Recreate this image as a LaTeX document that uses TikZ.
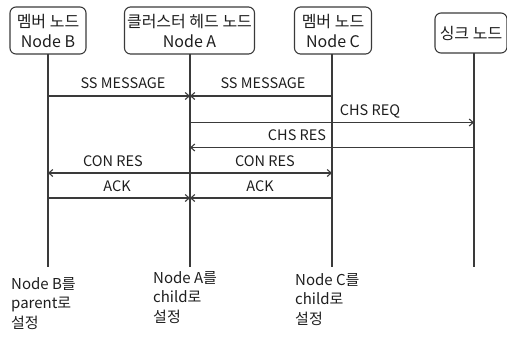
\documentclass[tikz,border=0pt]{standalone}
\usepackage{fontspec}
\setmainfont{Noto Sans CJK KR}
\usetikzlibrary{arrows.meta}
\definecolor{ln}{HTML}{3A3A3A}
\definecolor{tx}{HTML}{1E1E1E}
\begin{document}
\begin{tikzpicture}[x=1pt,y=-1pt,
  font=\fontsize{14.5}{20}\selectfont, text=tx,
  actor/.style={draw=ln, line width=1.1pt, rounded corners=6pt, minimum height=47pt, inner sep=1pt, align=center, font=\fontsize{16}{20}\selectfont},
  life/.style={draw=ln, line width=1.1pt},
  msg/.style={draw=ln, line width=1.1pt, -{Straight Barb[length=4pt,width=7pt,line width=1.1pt]}},
  lbl/.style={inner sep=0pt, anchor=base},
  note/.style={inner sep=0pt, anchor=north west, align=left, font=\fontsize{15}{19.5}\selectfont}]
\useasboundingbox (0,0) rectangle (507,338);
% actors
\node[actor, minimum width=76pt] (B) at (48,30.5) {멤버 노드\\Node B};
\node[actor, minimum width=130pt] (A) at (189.5,30.5) {클러스터 헤드 노드\\Node A};
\node[actor, minimum width=77pt] (C) at (333,30.5) {멤버 노드\\Node C};
\node[actor, minimum width=72pt, minimum height=40pt] (S) at (471,33) {싱크 노드};
% lifeline ends
\coordinate (Bt) at (48,54); \coordinate (Bb) at (48,267);
\coordinate (At) at (190,54); \coordinate (Ab) at (190,267);
\coordinate (Ct) at (332,54); \coordinate (Cb) at (332,267);
\coordinate (St) at (474,53); \coordinate (Sb) at (474,267);
\draw[life] (Bt) -- (Bb);
\draw[life] (At) -- (Ab);
\draw[life] (Ct) -- (Cb);
\draw[life] (St) -- (Sb);
% message levels
\coordinate (y1) at (0,96);
\coordinate (y2) at (0,122.5);
\coordinate (y3) at (0,147.5);
\coordinate (y4) at (0,173);
\coordinate (y5) at (0,198);
% SS MESSAGE
\draw[msg] (Bt |- y1) -- (At |- y1);
\draw[msg] (Ct |- y1) -- (At |- y1);
\node[lbl] (l1) at (123,88.5) {SS MESSAGE};
\node[lbl] (l2) at (263,88.5) {SS MESSAGE};
% CHS REQ
\draw[msg] (At |- y2) -- (St |- y2);
\node[lbl] (l3) at (370,115) {CHS REQ};
% CHS RES
\draw[msg] (St |- y3) -- (At |- y3);
\node[lbl] (l4) at (297,140.5) {CHS RES};
% CON RES
\draw[msg] (At |- y4) -- (Bt |- y4);
\draw[msg] (At |- y4) -- (Ct |- y4);
\node[lbl] (l5) at (113,166.5) {CON RES};
\node[lbl] (l6) at (265,166.5) {CON RES};
% ACK
\draw[msg] (Bt |- y5) -- (At |- y5);
\draw[msg] (Ct |- y5) -- (At |- y5);
\node[lbl] (l7) at (117,191) {ACK};
\node[lbl] (l8) at (260,191) {ACK};
% notes
\node[note] (n1) at (11,277) {Node B를\\parent로\\설정};
\node[note] (n2) at (153,271) {Node A를\\child로\\설정};
\node[note] (n3) at (295,273) {Node C를\\child로\\설정};
\end{tikzpicture}
\end{document}
